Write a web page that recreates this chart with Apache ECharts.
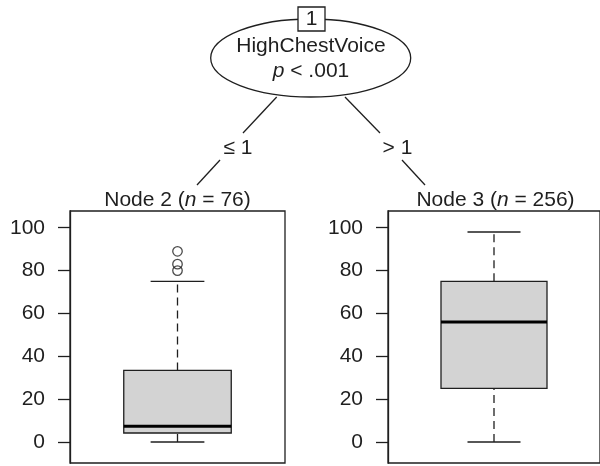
<!DOCTYPE html>
<html>
<head>
<meta charset="utf-8">
<script src="https://cdn.jsdelivr.net/npm/echarts@6/dist/echarts.min.js"></script>
<style>html,body{margin:0;padding:0;background:#fff}#c{width:600px;height:466px}</style>
</head>
<body>
<div id="c"></div>
<script>
// ---- data ----
const splitVariable = 'HighChestVoice';
const splitP = '< .001';
const splitLabels = ['≤ 1', '> 1'];
const nodeIds = [2, 3];
const nodeN = [76, 256];
// [category index, lower whisker, Q1, median, Q3, upper whisker]
const node2Box = [0, 0, 4.2, 7.4, 33.4, 75];
const node3Box = [0, 0, 25, 56, 75, 98];
const node2Outliers = [89, 83, 80];
const node3Outliers = [];
const yTicks = [0, 20, 40, 60, 80, 100];
const yMin = -9.8, yMax = 107.8;

const INK = '#1f1f1f';
const FONT = '"Liberation Sans", Arial, sans-serif';
const FS = 21;

function renderBox(params, api) {
  const x = api.value(0);
  const lo = api.coord([x, api.value(1)]);
  const q1 = api.coord([x, api.value(2)]);
  const md = api.coord([x, api.value(3)]);
  const q3 = api.coord([x, api.value(4)]);
  const hi = api.coord([x, api.value(5)]);
  const band = api.size([1, 0])[0];
  const bw = band * 0.5, cw = band * 0.25;
  const cx = lo[0];
  const lw = 1.3;
  return {
    type: 'group',
    children: [
      { type: 'line', shape: { x1: cx, y1: q3[1], x2: cx, y2: hi[1] }, style: { stroke: INK, lineWidth: lw, lineDash: [8, 5] } },
      { type: 'line', shape: { x1: cx, y1: lo[1], x2: cx, y2: q1[1] }, style: { stroke: INK, lineWidth: lw, lineDash: [8, 5] } },
      { type: 'line', shape: { x1: cx - cw / 2, y1: hi[1], x2: cx + cw / 2, y2: hi[1] }, style: { stroke: INK, lineWidth: lw } },
      { type: 'line', shape: { x1: cx - cw / 2, y1: lo[1], x2: cx + cw / 2, y2: lo[1] }, style: { stroke: INK, lineWidth: lw } },
      { type: 'rect', shape: { x: cx - bw / 2, y: q3[1], width: bw, height: q1[1] - q3[1] }, style: { fill: '#d3d3d3', stroke: INK, lineWidth: lw } },
      { type: 'line', shape: { x1: cx - bw / 2, y1: md[1], x2: cx + bw / 2, y2: md[1] }, style: { stroke: '#000', lineWidth: 3 } }
    ]
  };
}

function yAxisFor(gridIndex) {
  return {
    type: 'value', gridIndex, min: yMin, max: yMax,
    axisLine: { show: true, lineStyle: { color: INK, width: 1.3 } },
    axisTick: { show: true, customValues: yTicks, length: 12, lineStyle: { color: INK, width: 1.3 } },
    axisLabel: { customValues: yTicks, margin: 25, fontSize: FS, color: INK, fontFamily: FONT },
    splitLine: { show: false }
  };
}

function nodeTitle(i) {
  return 'Node ' + nodeIds[i] + ' ({i|n} = ' + nodeN[i] + ')';
}

const italic = { i: { fontStyle: 'italic', fontSize: FS, fontFamily: FONT, fill: INK } };
const textStyleBase = { fill: INK, fontSize: FS, fontFamily: FONT, align: 'center', verticalAlign: 'middle' };

const chart = echarts.init(document.getElementById('c'), null, { renderer: 'canvas' });
chart.setOption({
  animation: false,
  backgroundColor: '#fff',
  grid: [
    { left: 70, top: 211, width: 215, height: 252, show: true, borderColor: INK, borderWidth: 1.3, backgroundColor: 'transparent' },
    { left: 388, top: 211, width: 215, height: 252, show: true, borderColor: INK, borderWidth: 1.3, backgroundColor: 'transparent' }
  ],
  xAxis: [
    { type: 'category', gridIndex: 0, data: ['n2'], show: false },
    { type: 'category', gridIndex: 1, data: ['n3'], show: false }
  ],
  yAxis: [yAxisFor(0), yAxisFor(1)],
  series: [
    { type: 'custom', xAxisIndex: 0, yAxisIndex: 0, renderItem: renderBox, data: [node2Box], encode: { x: 0, y: [1, 2, 3, 4, 5] } },
    { type: 'custom', xAxisIndex: 1, yAxisIndex: 1, renderItem: renderBox, data: [node3Box], encode: { x: 0, y: [1, 2, 3, 4, 5] } },
    { type: 'scatter', xAxisIndex: 0, yAxisIndex: 0, symbol: 'circle', symbolSize: 9.5,
      itemStyle: { color: 'transparent', borderColor: INK, borderWidth: 1.3 },
      data: node2Outliers.map(v => [0, v]) },
    { type: 'scatter', xAxisIndex: 1, yAxisIndex: 1, symbol: 'circle', symbolSize: 9.5,
      itemStyle: { color: 'transparent', borderColor: INK, borderWidth: 1.3 },
      data: node3Outliers.map(v => [0, v]) }
  ],
  graphic: [
    // edges
    { type: 'line', shape: { x1: 276.7, y1: 97, x2: 243, y2: 133 }, style: { stroke: INK, lineWidth: 1.3 } },
    { type: 'line', shape: { x1: 220, y1: 160, x2: 197, y2: 185 }, style: { stroke: INK, lineWidth: 1.3 } },
    { type: 'line', shape: { x1: 345, y1: 97, x2: 380, y2: 133 }, style: { stroke: INK, lineWidth: 1.3 } },
    { type: 'line', shape: { x1: 402, y1: 160, x2: 425, y2: 185 }, style: { stroke: INK, lineWidth: 1.3 } },
    { type: 'text', x: 238, y: 148.5, style: Object.assign({ text: splitLabels[0] }, textStyleBase) },
    { type: 'text', x: 397.5, y: 148.5, style: Object.assign({ text: splitLabels[1] }, textStyleBase) },
    // inner node
    { type: 'ellipse', shape: { cx: 310.7, cy: 58, rx: 100, ry: 39 }, style: { fill: '#fff', stroke: INK, lineWidth: 1.3 } },
    { type: 'rect', shape: { x: 298, y: 7, width: 27, height: 24 }, style: { fill: '#fff', stroke: INK, lineWidth: 1.3 } },
    { type: 'text', x: 311.5, y: 19.5, style: Object.assign({ text: '1' }, textStyleBase) },
    { type: 'text', x: 311, y: 46.5, style: Object.assign({ text: splitVariable }, textStyleBase) },
    { type: 'text', x: 311, y: 71, style: Object.assign({ text: '{i|p} ' + splitP, rich: italic }, textStyleBase) },
    // terminal node titles
    { type: 'text', x: 177.5, y: 200, style: Object.assign({ text: nodeTitle(0), rich: italic }, textStyleBase) },
    { type: 'text', x: 495.5, y: 200, style: Object.assign({ text: nodeTitle(1), rich: italic }, textStyleBase) }
  ]
});
</script>
</body>
</html>
